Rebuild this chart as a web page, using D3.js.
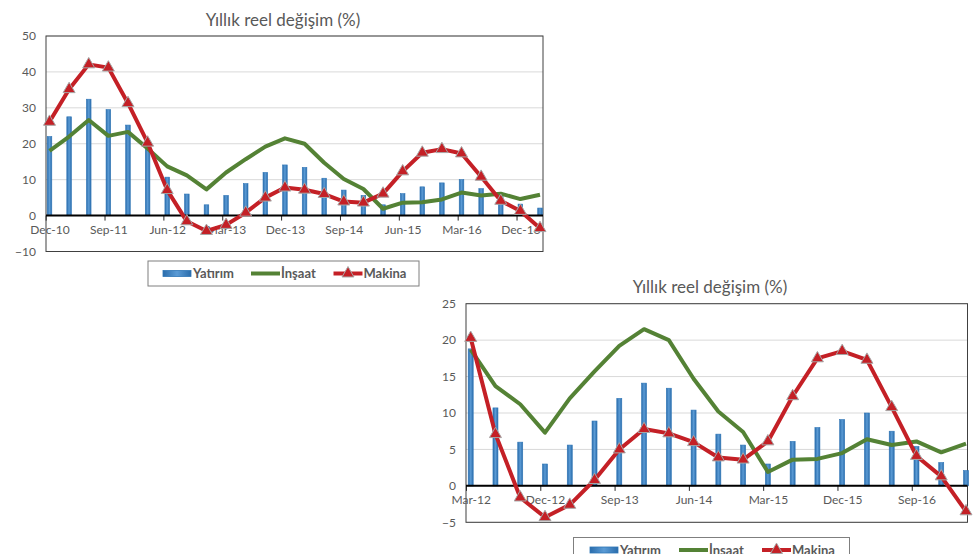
<!DOCTYPE html>
<html>
<head>
<meta charset="utf-8">
<script src="https://cdn.jsdelivr.net/npm/d3@7"></script>
<style>
html,body{margin:0;padding:0;background:#fff;}
svg{display:block;}
text{font-family:Lato,"Open Sans","Liberation Sans",sans-serif;}
</style>
</head>
<body>
<svg id="c" width="979" height="554"></svg>
<script>
// ---- data (quarterly, Dec-10 .. Mar-17) ----
const quarters = ["Dec-10","Mar-11","Jun-11","Sep-11","Dec-11","Mar-12","Jun-12","Sep-12","Dec-12","Mar-13","Jun-13","Sep-13","Dec-13","Mar-14","Jun-14","Sep-14","Dec-14","Mar-15","Jun-15","Sep-15","Dec-15","Mar-16","Jun-16","Sep-16","Dec-16","Mar-17"];
const yatirim = [22.0,27.5,32.4,29.5,25.2,18.8,10.7,6.0,3.0,5.6,8.9,12.0,14.1,13.4,10.4,7.1,5.6,3.0,6.1,8.0,9.1,10.0,7.5,5.4,3.2,2.1];
const insaat  = [18.0,22.0,26.6,22.2,23.3,18.7,13.7,11.2,7.3,12.0,15.7,19.2,21.5,20.0,14.7,10.2,7.4,1.9,3.6,3.7,4.5,6.4,5.6,6.1,4.6,5.8];
const makina  = [26.1,35.2,42.1,41.2,31.3,20.3,7.1,-1.6,-4.3,-2.6,0.8,5.0,7.8,7.2,6.0,3.9,3.6,6.1,12.3,17.5,18.5,17.3,10.8,4.1,1.3,-3.5];
const seriesNames = ["Yatırım","İnşaat","Makina"];
const titleText = "Yıllık reel değişim (%)";
const yTicks1 = [-10,0,10,20,30,40,50];
const yTicks2 = [-5,0,5,10,15,20,25];
const chart2Start = 5; // Mar-12

const C = {bar:"#2e75b6", barLight:"#6fa8dc", green:"#548235", red:"#c42026", grid:"#d9d9d9", text:"#595959"};

const svg = d3.select("#c");
const defs = svg.append("defs");
const grad = defs.append("linearGradient").attr("id","bg").attr("x1","0").attr("x2","1").attr("y1","0").attr("y2","0");
grad.append("stop").attr("offset","0%").attr("stop-color","#2a6cab");
grad.append("stop").attr("offset","50%").attr("stop-color","#5b9bd5");
grad.append("stop").attr("offset","100%").attr("stop-color","#2a6cab");

function drawChart(cfg){
  const g = svg.append("g");
  const cats = cfg.cats;
  const x = d3.scalePoint().domain(cats).range([cfg.px0, cfg.px1]);
  const step = x.step();
  const y = d3.scaleLinear().domain(cfg.ydom).range([cfg.py1, cfg.py0]);

  // title
  g.append("text").attr("x",cfg.titleX).attr("y",cfg.titleY).attr("text-anchor","middle")
    .attr("fill",C.text).attr("font-size",17).text(titleText);

  // gridlines
  g.append("g").selectAll("line").data(cfg.yticks).join("line")
    .attr("x1",cfg.bx0).attr("x2",cfg.bx1).attr("y1",d=>y(d)).attr("y2",d=>y(d))
    .attr("stroke",C.grid).attr("stroke-width",1);

  // plot border
  g.append("rect").attr("x",cfg.bx0).attr("y",y(cfg.ydom[1])).attr("width",cfg.bx1-cfg.bx0)
    .attr("height",y(cfg.ydom[0])-y(cfg.ydom[1])).attr("fill","none").attr("stroke","#404040").attr("stroke-width",1);

  // y axis labels
  const ya = d3.axisLeft(y).tickValues(cfg.yticks).tickSize(0).tickPadding(10);
  const yg = g.append("g").attr("transform",`translate(${cfg.bx0},0)`).call(ya);
  yg.select(".domain").remove();
  yg.selectAll("text").attr("fill",C.text).attr("font-size",12);

  // x axis at zero
  const labelCats = cats.filter((d,i)=>i%3===0);
  const xa = d3.axisBottom(x).tickValues(labelCats).tickSize(0).tickPadding(10);
  const xg = g.append("g").attr("transform",`translate(0,${y(0)})`).call(xa);
  xg.select(".domain").remove();
  xg.selectAll("text").attr("fill",C.text).attr("font-size",12);
  // tick marks (slightly left of points, as in reference)
  g.append("g").selectAll("line").data(labelCats).join("line")
    .attr("x1",d=>x(d)-step*0.17).attr("x2",d=>x(d)-step*0.17)
    .attr("y1",y(0)).attr("y2",y(0)+5).attr("stroke","#262626").attr("stroke-width",1);

  // bars
  const bw = cfg.barW;
  g.append("g").selectAll("rect").data(cfg.yat).join("rect")
    .attr("x",(d,i)=>x(cats[i])-bw/2).attr("width",bw)
    .attr("y",d=>y(Math.max(0,d))).attr("height",d=>Math.abs(y(d)-y(0)))
    .attr("fill","url(#bg)").attr("stroke",C.bar).attr("stroke-width",0.6);

  // zero line
  g.append("line").attr("x1",cfg.bx0).attr("x2",cfg.bx1).attr("y1",y(0)).attr("y2",y(0))
    .attr("stroke","#000").attr("stroke-width",2);

  const line = d3.line().x((d,i)=>x(cats[i])).y(d=>y(d));
  g.append("path").datum(cfg.ins).attr("d",line).attr("fill","none")
    .attr("stroke",C.green).attr("stroke-width",4).attr("stroke-linejoin","round");
  g.append("path").datum(cfg.mak).attr("d",line).attr("fill","none")
    .attr("stroke",C.red).attr("stroke-width",4).attr("stroke-linejoin","round");
  const tri = d3.symbol().type(d3.symbolTriangle).size(62);
  g.append("g").selectAll("path").data(cfg.mak).join("path")
    .attr("d",tri).attr("transform",(d,i)=>`translate(${x(cats[i])},${y(d)})`)
    .attr("fill",C.red).attr("stroke","#a6a6a6").attr("stroke-width",1);

  // legend
  const L = cfg.leg;
  const lg = g.append("g");
  lg.append("rect").attr("x",L.x).attr("y",L.y).attr("width",L.w).attr("height",L.h)
    .attr("fill","#fff").attr("stroke","#7f7f7f").attr("stroke-width",1);
  const cy = L.y + L.h/2;
  lg.append("rect").attr("x",L.items[0]).attr("y",cy-3).attr("width",28).attr("height",6)
    .attr("fill","url(#bg)").attr("stroke",C.bar).attr("stroke-width",0.8);
  lg.append("line").attr("x1",L.items[1]).attr("x2",L.items[1]+29).attr("y1",cy).attr("y2",cy)
    .attr("stroke",C.green).attr("stroke-width",4);
  lg.append("line").attr("x1",L.items[2]).attr("x2",L.items[2]+29).attr("y1",cy).attr("y2",cy)
    .attr("stroke",C.red).attr("stroke-width",4);
  lg.append("path").attr("d",tri).attr("transform",`translate(${L.items[2]+14.5},${cy})`)
    .attr("fill",C.red).attr("stroke","#a6a6a6").attr("stroke-width",1);
  seriesNames.forEach((n,i)=>{
    lg.append("text").attr("x",L.items[i]+30).attr("y",cy).attr("dy","0.36em")
      .attr("font-size",13).attr("font-weight","bold").attr("fill",C.text).text(n);
  });
}

drawChart({
  cats: quarters, yat: yatirim, ins: insaat, mak: makina,
  px0:49.5, px1:540, bx0:46, bx1:543, py0:36, py1:251.5, ydom:[-10,50], yticks:yTicks1,
  titleX:283, titleY:26, barW:4.6,
  leg:{x:148, y:261, w:271, h:25, items:[163,251,333.5]}
});
drawChart({
  cats: quarters.slice(chart2Start), yat: yatirim.slice(chart2Start), ins: insaat.slice(chart2Start), mak: makina.slice(chart2Start),
  px0:470.7, px1:966, bx0:466, bx1:967.5, py0:303.7, py1:522.3, ydom:[-5,25], yticks:yTicks2,
  titleX:710, titleY:293, barW:5,
  leg:{x:573.5, y:537.5, w:276, h:25, items:[590,679,762]}
});
</script>
</body>
</html>
